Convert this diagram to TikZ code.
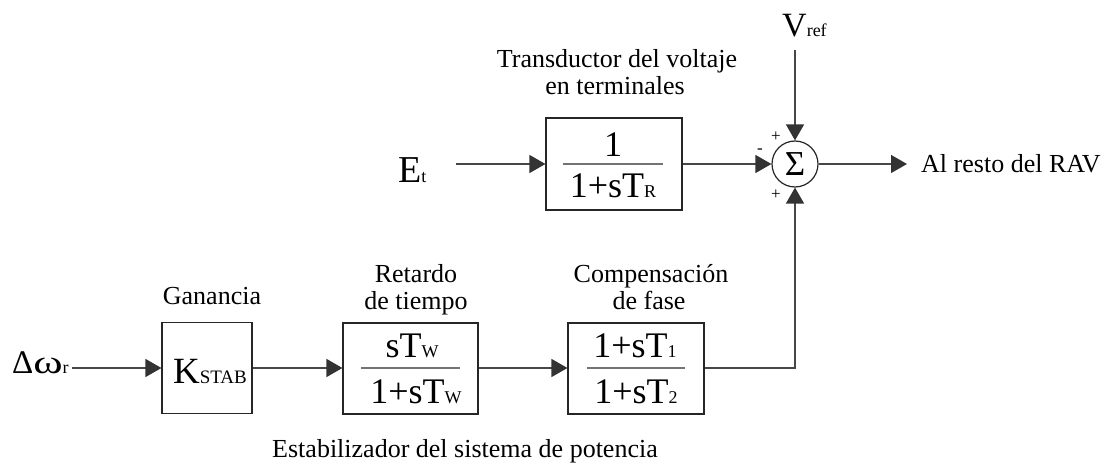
\documentclass[tikz,border=0pt]{standalone}
\usepackage{fontspec}
\setmainfont{Liberation Serif}
\usetikzlibrary{arrows.meta,calc}
\newcommand{\bigtx}[1]{{\fontsize{36}{36}\selectfont #1}}
\newcommand{\subtx}[1]{{\fontsize{18}{18}\selectfont #1}}
\begin{document}
\begin{tikzpicture}[x=1pt,y=-1pt,
  blk/.style={draw=black!85, line width=1.2pt, inner sep=0pt},
  sumc/.style={circle, draw=black!85, line width=1.2pt, inner sep=0pt, minimum size=46pt},
  conn/.style={draw=black!72, line width=1.4pt, -{Triangle[length=16pt,width=18pt,color=black!80]}},
  fbar/.style={draw=black!55, line width=1.8pt},
  num/.style={anchor=base, inner sep=0pt},
  lbl/.style={anchor=base, inner sep=0pt, font=\fontsize{26}{27}\selectfont},
  sgn/.style={inner sep=0pt, font=\fontsize{17}{17}\selectfont}
]
\fill[white] (0,0) rectangle (1112,470);
\useasboundingbox (0,0) rectangle (1112,470);

% ---- top row
\node[anchor=base west, inner sep=0pt] (et) at (398,183) {{\fontsize{38}{38}\selectfont E}\subtx{t}};
\coordinate (etS) at (456,164);
\node[blk, minimum width=136pt, minimum height=92pt] (b1) at (614,164) {};
\node[num] (b1n) at (613,157) {\bigtx{1}};
\draw[fbar] (563,164) -- (663,164);
\node[num] (b1d) at (613,198) {\bigtx{1+sT}\subtx{R}};
\node[lbl] (t1a) at (617,68) {Transductor del voltaje};
\node[lbl] (t1b) at (615,95) {en terminales};

\node[sumc] (sum) at (795,164) {\fontsize{35}{35}\selectfont Σ};
\node[anchor=base west, inner sep=0pt] (vref) at (782,37) {{\fontsize{34}{34}\selectfont V}\subtx{ref}};
\coordinate (vS) at (795,50);
\coordinate (outE) at (907,164);
\node[anchor=base west, inner sep=0pt, font=\fontsize{26}{27}\selectfont] (out) at (921,173) {Al resto del RAV};
\node[sgn] (pTop) at (776,137) {+};
\node[sgn] (mLeft) at (760,151) {-};
\node[sgn] (pBot) at (776,195) {+};

% ---- bottom row
\node[anchor=base west, inner sep=0pt] (dw) at (12,374) {{\fontsize{33}{33}\selectfont Δ\scalebox{1.35}[1]{ω}}\subtx{r}};
\coordinate (dwS) at (72,368);
\node[blk, minimum width=90pt, minimum height=91pt] (bK) at (207,368) {};
\node[num] (bKt) at (210,384) {{\fontsize{37}{37}\selectfont K}{\fontsize{19}{19}\selectfont STAB}};
\node[lbl] (gan) at (212,305) {Ganancia};

\node[blk, minimum width=135pt, minimum height=91pt] (b2) at (410.5,368.5) {};
\node[num] (b2n) at (412,358) {\bigtx{sT}\subtx{W}};
\draw[fbar] (361,368) -- (460,368);
\node[num] (b2d) at (416,403) {\bigtx{1+sT}\subtx{W}};
\node[lbl] (ret1) at (416,283) {Retardo};
\node[lbl] (ret2) at (416,310) {de tiempo};

\node[blk, minimum width=136pt, minimum height=91pt] (b3) at (636,368.5) {};
\node[num] (b3n) at (635,358) {\bigtx{1+sT}\subtx{1}};
\draw[fbar] (587,368) -- (685,368);
\node[num] (b3d) at (636,403) {\bigtx{1+sT}\subtx{2}};
\node[lbl] (comp1) at (651,283) {Compensación};
\node[lbl] (comp2) at (649,310) {de fase};

\node[lbl] (esta) at (465,457) {Estabilizador del sistema de potencia};

% ---- connectors
\draw[conn] (etS) -- (b1.west);
\draw[conn] (b1.east) -- (sum.west);
\draw[conn] (vS) -- (sum.north);
\draw[conn] (sum.east) -- (outE);
\draw[conn] (dwS) -- (bK.west);
\draw[conn] (bK.east) -- (b2.west |- bK.east);
\draw[conn] (b2.east |- bK.east) -- (b3.west |- bK.east);
\draw[conn] (b3.east |- bK.east) -| (sum.south);
\end{tikzpicture}
\end{document}
